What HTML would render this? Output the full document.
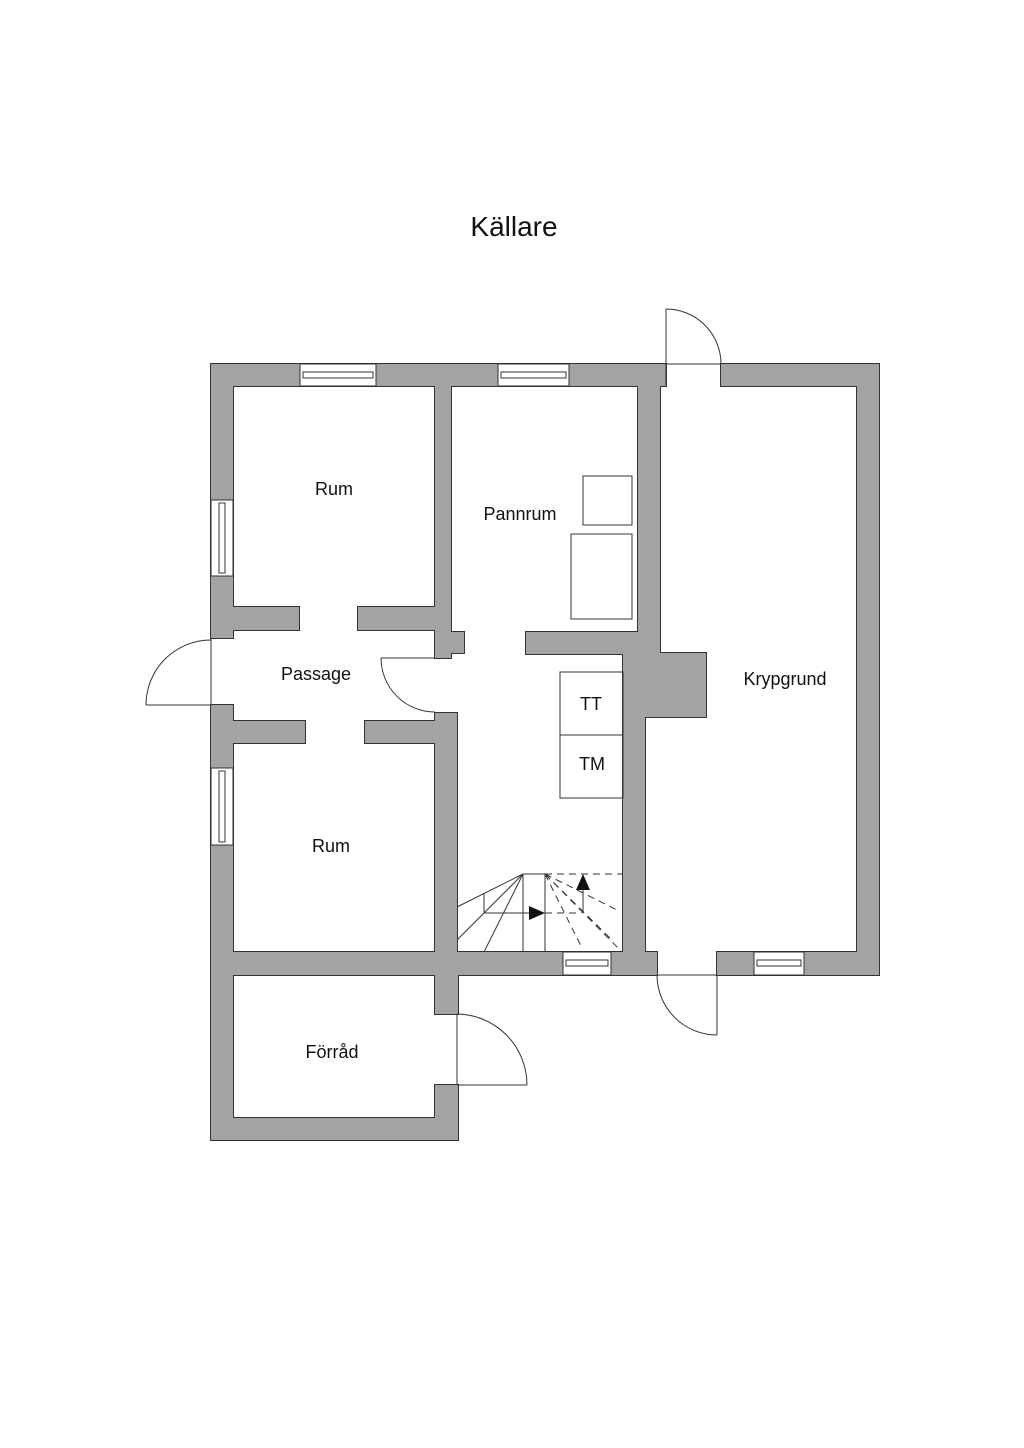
<!DOCTYPE html>
<html><head><meta charset="utf-8"><style>
html,body{margin:0;padding:0;background:#fff;}
svg{display:block;}
text{font-family:"Liberation Sans",sans-serif;fill:#111;}
</style></head><body>
<svg width="1024" height="1448" viewBox="0 0 1024 1448" xmlns="http://www.w3.org/2000/svg">
<defs>
<g id="w">
<rect x="211" y="364" width="455" height="22"/>
<rect x="721" y="364" width="158" height="22"/>
<rect x="211" y="364" width="22" height="274"/>
<rect x="211" y="705" width="22" height="435"/>
<rect x="857" y="364" width="22" height="611"/>
<rect x="211" y="952" width="446" height="23"/>
<rect x="717" y="952" width="162" height="23"/>
<rect x="211" y="1118" width="247" height="22"/>
<rect x="435" y="975" width="23" height="39"/>
<rect x="435" y="1085" width="23" height="55"/>
<rect x="435" y="386" width="16" height="272"/>
<rect x="451" y="632" width="13" height="21"/>
<rect x="435" y="713" width="22" height="262"/>
<rect x="233" y="607" width="66" height="23"/>
<rect x="358" y="607" width="77" height="23"/>
<rect x="233" y="721" width="72" height="22"/>
<rect x="365" y="721" width="70" height="22"/>
<rect x="526" y="632" width="112" height="22"/>
<rect x="638" y="386" width="22" height="267"/>
<rect x="623" y="653" width="22" height="322"/>
<rect x="645" y="653" width="61" height="64"/>
<rect x="611" y="952" width="46" height="23"/>
</g>
</defs>
<rect width="1024" height="1448" fill="#fff"/>
<text x="514" y="236" font-size="28" text-anchor="middle">Källare</text>
<use href="#w" fill="#333" stroke="#333" stroke-width="2"/>
<use href="#w" fill="#a3a3a3" stroke="none"/>
<g fill="#fff" stroke="#333" stroke-width="1">
<rect x="300" y="364" width="76" height="22"/>
<rect x="303" y="372" width="70" height="6"/>
<rect x="498" y="364" width="71" height="22"/>
<rect x="501" y="372" width="65" height="6"/>
<rect x="563" y="952" width="48" height="23"/>
<rect x="566" y="960" width="42" height="6"/>
<rect x="754" y="952" width="50" height="23"/>
<rect x="757" y="960" width="44" height="6"/>
<rect x="211" y="500" width="22" height="76"/>
<rect x="219" y="503" width="6" height="70"/>
<rect x="211" y="768" width="22" height="77"/>
<rect x="219" y="771" width="6" height="71"/>
</g>
<g fill="none" stroke="#333" stroke-width="1">
<line x1="666" y1="386" x2="666" y2="309"/><path d="M666 309 A55 55 0 0 1 721 364"/><line x1="666" y1="364" x2="721" y2="364"/>
<line x1="211" y1="705" x2="146" y2="705"/><path d="M146 705 A65 65 0 0 1 211 640"/><line x1="211" y1="638" x2="211" y2="705"/>
<line x1="435" y1="658" x2="381" y2="658"/><path d="M381 658 A54 54 0 0 0 435 712"/>
<line x1="457" y1="1014" x2="457" y2="1085"/><line x1="457" y1="1085" x2="527" y2="1085"/><path d="M457 1014 A71 71 0 0 1 527 1085"/>
<line x1="717" y1="975" x2="717" y2="1035"/><path d="M657 975 A60 60 0 0 0 717 1035"/><line x1="657" y1="975" x2="717" y2="975"/>
<rect x="583" y="476" width="49" height="49"/>
<rect x="571" y="534" width="61" height="85"/>
<rect x="560" y="672" width="63" height="63"/>
<rect x="560" y="735" width="63" height="63"/>
<line x1="523" y1="874" x2="545" y2="874"/>
<line x1="523" y1="874" x2="457" y2="907"/>
<line x1="523" y1="874" x2="457" y2="940"/>
<line x1="523" y1="874" x2="484" y2="952"/>
<line x1="523" y1="874" x2="523" y2="952"/>
<line x1="545" y1="874" x2="545" y2="952"/>
<line x1="484" y1="894" x2="484" y2="913"/>
<line x1="484" y1="913" x2="530" y2="913"/>
<line x1="583" y1="913" x2="583" y2="890"/>
</g>
<g fill="none" stroke="#333" stroke-width="1" stroke-dasharray="7,5">
<line x1="545" y1="874" x2="623" y2="874"/>
<line x1="545" y1="913" x2="582" y2="913"/>
<line x1="545" y1="874" x2="582" y2="948"/>
<line x1="545" y1="874" x2="612" y2="940"/>
<line x1="545" y1="874" x2="621" y2="951"/>
<line x1="545" y1="874" x2="619" y2="911"/>
</g>
<polygon points="529,906 545,913 529,920" fill="#111"/>
<polygon points="576,890 583,874 590,890" fill="#111"/>
<g font-size="18" text-anchor="middle">
<text x="334" y="495">Rum</text>
<text x="520" y="520">Pannrum</text>
<text x="316" y="680">Passage</text>
<text x="331" y="852">Rum</text>
<text x="332" y="1058">Förråd</text>
<text x="785" y="685">Krypgrund</text>
<text x="591" y="710">TT</text>
<text x="592" y="770">TM</text>
</g>
</svg>
</body></html>
